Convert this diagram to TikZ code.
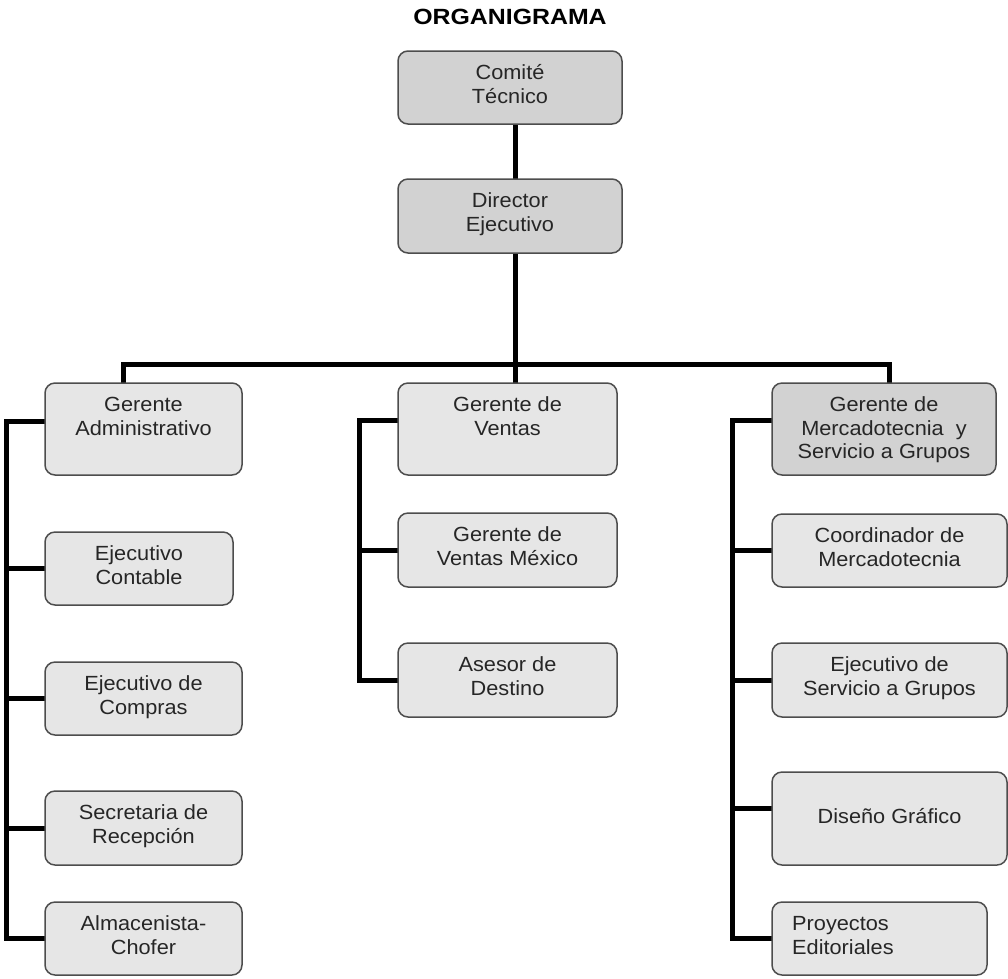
\documentclass[tikz,border=0pt]{standalone}
\usepackage{fontspec}
\setmainfont{Liberation Sans}
\newfontfamily\titlefont{Liberation Sans}[FakeStretch=1.13]
\newfontfamily\boxfont{Liberation Sans}[FakeStretch=1.06]
\usetikzlibrary{backgrounds}

\definecolor{boxfill}{HTML}{E6E6E6}
\definecolor{keyfill}{HTML}{D2D2D2}
\definecolor{boxline}{HTML}{4D4D4D}
\definecolor{ink}{HTML}{262626}

\tikzset{
  orgbox/.style={draw=boxline, line width=1.5pt, rounded corners=10pt,
                 fill=boxfill, inner sep=0pt, outer sep=0pt},
  keybox/.style={orgbox, fill=keyfill},
  boxtext/.style={inner sep=0pt, align=center, text=ink,
                  font=\boxfont\fontsize{20.5}{23.5}\selectfont},
  link/.style={line width=5pt, draw=black, line join=miter},
}

% \orgunit[style]{name}{left}{top}{right}{bottom}{label}
\newcommand{\orgunit}[7][orgbox]{%
  \node[#1, minimum width={#5-#3}, minimum height={#6-#4}] (#2)
    at ({(#3+#5)/2},{(#4+#6)/2}) {};
  \node[boxtext, anchor=north] (#2-label) at ([yshift=-12pt]#2.north) {\strut #7};
}

\begin{document}
\begin{tikzpicture}[x=1pt, y=-1pt]
  \useasboundingbox (0,0) rectangle (1008,978);

  \node[font=\titlefont\bfseries\fontsize{22}{26}\selectfont, anchor=base, inner sep=0pt]
    (title) at (510,24) {ORGANIGRAMA};

  % top management
  \orgunit[keybox]{ct}{398}{51}{622}{124}{Comité\\Técnico}
  \orgunit[keybox]{de}{398}{179}{622}{253}{Director\\Ejecutivo}

  % managers
  \orgunit{ga}{45}{383}{242}{475}{Gerente\\Administrativo}
  \orgunit{gv}{398}{383}{617}{475}{Gerente de\\Ventas}
  \orgunit[keybox]{gm}{772}{383}{996}{475}{Gerente de\\Mercadotecnia~ y\\Servicio a Grupos}

  % administration
  \orgunit{ec}{45}{532}{233}{605}{Ejecutivo\\Contable}
  \orgunit{ecp}{45}{662}{242}{735}{Ejecutivo de\\Compras}
  \orgunit{sr}{45}{791}{242}{865}{Secretaria de\\Recepción}
  \orgunit{ac}{45}{902}{242}{975}{Almacenista-\\Chofer}

  % sales
  \orgunit{gvm}{398}{513}{617}{587}{Gerente de\\Ventas México}
  \orgunit{ad}{398}{643}{617}{717}{Asesor de\\Destino}

  % marketing and groups
  \orgunit{cm}{772}{514}{1007}{587}{Coordinador de\\Mercadotecnia}
  \orgunit{esg}{772}{643}{1007}{717}{Ejecutivo de\\Servicio a Grupos}
  \node[orgbox, minimum width=235, minimum height=93] (dg) at (889.5,818.5) {};
  \node[boxtext, anchor=base] (dg-label) at ([yshift=-51.5pt]dg.north) {Diseño Gráfico};
  \node[orgbox, minimum width=215, minimum height=73] (pe) at (879.5,938.5) {};
  \node[boxtext, align=left, anchor=north west] (pe-label)
    at ([xshift=20pt,yshift=-12pt]pe.north west) {\strut Proyectos\\Editoriales};

  % junction points of the connector tree
  \coordinate (hub)    at (515,364);
  \coordinate (busL)   at (123,364);
  \coordinate (busR)   at (889,364);
  \coordinate (lspine) at (6,421);
  \coordinate (mspine) at (359,420);
  \coordinate (rspine) at (732,420);
  \coordinate (dgtap)  at (732,808);

  \begin{scope}[on background layer]
    \draw[link] (ct.south -| hub) -- (de.north -| hub);
    \draw[link] (de.south -| hub) -- (hub |- gv.north);
    \draw[link] (busL |- ga.north) -- (busL) -- (busR) -- (busR |- gm.north);

    \draw[link] (ga.west |- lspine) -- (lspine) |- (ac.west);
    \foreach \n in {ec, ecp, sr}
      \draw[link] (lspine |- \n.west) -- (\n.west);

    \draw[link] (gv.west |- mspine) -- (mspine) |- (ad.west);
    \draw[link] (mspine |- gvm.west) -- (gvm.west);

    \draw[link] (gm.west |- rspine) -- (rspine) |- (pe.west);
    \foreach \n in {cm, esg}
      \draw[link] (rspine |- \n.west) -- (\n.west);
    \draw[link] (dgtap) -- (dg.west |- dgtap);
  \end{scope}
\end{tikzpicture}
\end{document}
